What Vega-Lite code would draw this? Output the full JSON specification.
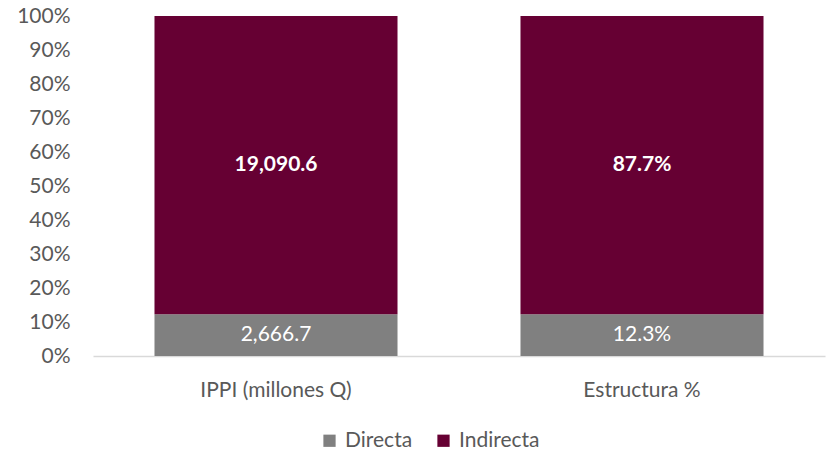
{
  "$schema": "https://vega.github.io/schema/vega-lite/v6.json",
  "width": 732,
  "height": 340,
  "autosize": {"type": "none"},
  "padding": {"left": 93, "top": 16, "right": 5, "bottom": 97},
  "background": "white",
  "config": {"view": {"stroke": null}, "font": "Lato"},
  "data": {"values": [
    {"cat": "IPPI (millones Q)", "tipo": "Directa", "valor": 2666.7, "label": "2,666.7", "ord": 1},
    {"cat": "IPPI (millones Q)", "tipo": "Indirecta", "valor": 19090.6, "label": "19,090.6", "ord": 2},
    {"cat": "Estructura %", "tipo": "Directa", "valor": 12.3, "label": "12.3%", "ord": 1},
    {"cat": "Estructura %", "tipo": "Indirecta", "valor": 87.7, "label": "87.7%", "ord": 2}
  ]},
  "transform": [
    {"stack": "valor", "groupby": ["cat"], "sort": [{"field": "ord"}], "offset": "normalize", "as": ["y0", "y1"]},
    {"calculate": "(datum.y0 + datum.y1) / 2", "as": "ymid"}
  ],
  "encoding": {
    "x": {"field": "cat", "type": "nominal", "sort": ["IPPI (millones Q)", "Estructura %"],
      "scale": {"paddingInner": 0.336, "paddingOuter": 0.168},
      "axis": {"title": null, "labelAngle": 0, "labelFontSize": 21, "labelColor": "#595959", "labelPadding": 23, "ticks": false, "domainColor": "#d9d9d9", "domainWidth": 1.5}},
    "y": {"field": "y0", "type": "quantitative",
      "scale": {"domain": [0, 1]},
      "axis": {"title": null, "format": ".0%", "values": [0,0.1,0.2,0.3,0.4,0.5,0.6,0.7,0.8,0.9,1], "labelOverlap": false, "grid": false, "domain": false, "ticks": false, "labelFontSize": 21, "labelColor": "#595959", "labelPadding": 23}}
  },
  "layer": [
    {
      "mark": {"type": "bar"},
      "encoding": {
        "y2": {"field": "y1"},
        "color": {"field": "tipo", "type": "nominal",
          "scale": {"domain": ["Directa", "Indirecta"], "range": ["#808080", "#660033"]},
          "legend": {"title": null, "orient": "none", "legendX": 226, "legendY": 414, "direction": "horizontal", "symbolType": "square", "symbolSize": 150, "symbolStrokeWidth": 0, "labelFontSize": 21, "labelColor": "#595959", "columnPadding": 20, "labelOffset": 5}}
      }
    },
    {
      "transform": [{"filter": "datum.tipo === 'Directa'"}],
      "mark": {"type": "text", "color": "white", "fontSize": 21, "baseline": "middle", "fontWeight": "normal"},
      "encoding": {
        "y": {"field": "ymid", "type": "quantitative"},
        "text": {"field": "label"}
      }
    },
    {
      "transform": [{"filter": "datum.tipo === 'Indirecta'"}],
      "mark": {"type": "text", "color": "white", "fontSize": 21, "baseline": "middle", "fontWeight": "bold"},
      "encoding": {
        "y": {"field": "ymid", "type": "quantitative"},
        "text": {"field": "label"}
      }
    }
  ]
}
